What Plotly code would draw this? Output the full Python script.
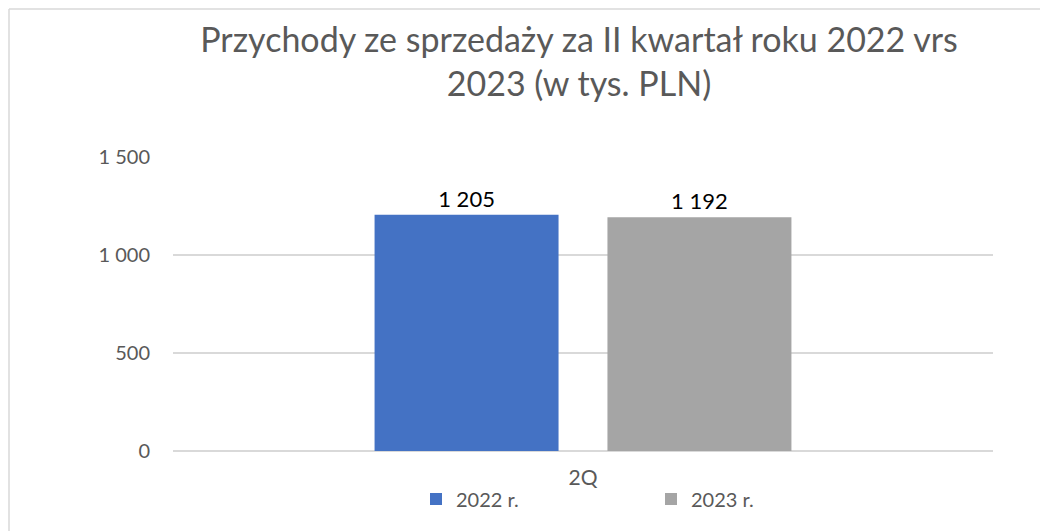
import plotly.graph_objects as go

categories = ["2Q"]
series_names = ["2022 r.", "2023 r."]
values_2022 = [1205]
values_2023 = [1192]
colors = ["#4472C4", "#A5A5A5"]
title_lines = ["Przychody ze sprzedaży za II kwartał roku 2022 vrs", "2023 (w tys. PLN)"]
y_ticks = [0, 500, 1000, 1500]

FONT = "Lato"
GRAY = "#595959"
OFF = 8  # page body margin

fig = go.Figure()
for name, vals, col in zip(series_names, [values_2022, values_2023], colors):
    fig.add_trace(go.Bar(
        x=categories, y=vals, name=name, marker_color=col, marker_line_width=0,
        texttemplate="%{y:,}",
        textposition="outside",
        textfont=dict(family=FONT, size=22, color="#000000"),
        cliponaxis=False,
    ))

# screen coords of plot area: x 173..993, y 157..451
W, H = 1048 - OFF, 531 - OFF
L = 173 - OFF
T = 157 - OFF
R = W - (993 - OFF)
B = H - (451 - OFF)
pw, ph = W - L - R, H - T - B

def px_x(x):
    return (x - OFF - L) / pw

def px_y(y):
    return (H - B - (y - OFF)) / ph

fig.update_layout(
    width=W, height=H,
    margin=dict(l=L, r=R, t=T, b=B),
    paper_bgcolor="white", plot_bgcolor="white",
    separators=", ",
    barmode="group", bargap=0.432, bargroupgap=0.21,
    title=dict(
        text="<br>".join(title_lines),
        font=dict(family=FONT, size=34, color=GRAY),
        x=(579 - OFF) / W, xanchor="center",
        y=1 - 44 / H, yanchor="top",
    ),
    xaxis=dict(
        showgrid=False, showline=False, zeroline=False,
        tickfont=dict(family=FONT, size=21, color=GRAY),
        ticklabelstandoff=12,
    ),
    yaxis=dict(
        range=[0, 1500], tickvals=y_ticks, tickformat=",",
        showgrid=True, gridcolor="#D9D9D9", gridwidth=1.5,
        zeroline=True, zerolinecolor="#D9D9D9", zerolinewidth=1.5,
        showline=False,
        tickfont=dict(family=FONT, size=20, color=GRAY),
        ticklabelstandoff=22,
    ),
    legend=dict(
        orientation="h", x=px_x(416), xanchor="left",
        y=px_y(499), yanchor="middle",
        font=dict(family=FONT, size=20, color=GRAY),
        entrywidth=190, entrywidthmode="pixels",
        bgcolor="rgba(0,0,0,0)",
    ),
    showlegend=True,
    shapes=[
        dict(type="line", xref="paper", yref="paper",
             x0=px_x(OFF + 1), x1=px_x(1100), y0=px_y(OFF + 1), y1=px_y(OFF + 1),
             line=dict(color="#D9D9D9", width=1.5)),
        dict(type="line", xref="paper", yref="paper",
             x0=px_x(OFF + 1), x1=px_x(OFF + 1), y0=px_y(OFF + 1), y1=px_y(600),
             line=dict(color="#D9D9D9", width=1.5)),
    ],
)

fig.write_html("out.html")
